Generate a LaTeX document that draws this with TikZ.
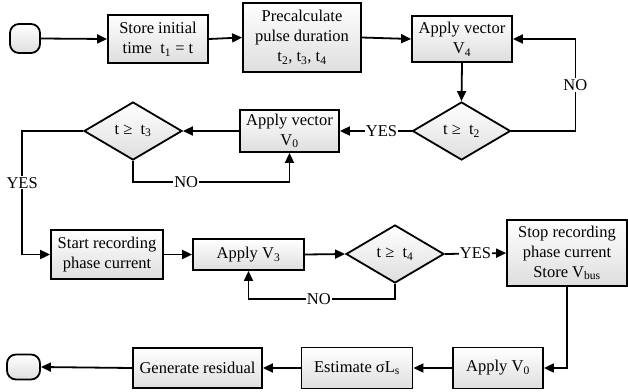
\documentclass[tikz,border=0pt]{standalone}
\usepackage{fontspec}
\setmainfont{Liberation Serif}
\usetikzlibrary{shapes.geometric,arrows.meta}
\newcommand{\sbs}[1]{\textsubscript{#1}}
\begin{document}
\begin{tikzpicture}[x=1pt,y=-1pt,
  font=\fontsize{16.5}{20}\selectfont,
  shd/.style={top color=white,bottom color=black!13,draw=black,line width=1.8pt},
  procbox/.style={shd,rectangle,inner sep=0pt,align=center},
  term/.style={shd,rectangle,rounded corners=9pt,inner sep=0pt},
  dec/.style={shd,diamond,inner sep=0pt,minimum width=98pt,minimum height=58pt},
  arr/.style={line width=1.8pt,-{Triangle[length=10pt,width=9pt]}},
  lbl/.style={fill=white,inner sep=1pt}]
\useasboundingbox (0,0) rectangle (628,391);

\node[term,minimum width=30pt,minimum height=29pt] (start) at (25,38.5) {};
\node[procbox,minimum width=100pt,minimum height=48pt] (store) at (158,39) {Store initial\\time\ \ t\sbs{1} = t};
\node[procbox,minimum width=118pt,minimum height=69pt] (pre) at (302,37.5) {Precalculate\\pulse duration\\t\sbs{2}, t\sbs{3}, t\sbs{4}};
\node[procbox,minimum width=100pt,minimum height=46pt] (v4) at (462,39) {Apply vector\\V\sbs{4}};
\node[dec] (d2) at (461.5,131) {t ≥\ \ t\sbs{2}};
\node[procbox,minimum width=99pt,minimum height=42pt] (v0a) at (289.5,131) {Apply vector\\V\sbs{0}};
\node[dec] (d3) at (133,131) {t ≥\ \ t\sbs{3}};
\node[procbox,minimum width=112pt,minimum height=49pt] (rec) at (107,254.5) {Start recording\\phase current};
\node[procbox,minimum width=111pt,minimum height=31pt] (v3) at (248.5,254.5) {Apply V\sbs{3}};
\node[dec] (d4) at (395,254) {t ≥\ \ t\sbs{4}};
\node[procbox,minimum width=120pt,minimum height=66pt] (stop) at (567,253) {Stop recording\\phase current\\Store V\sbs{bus}};
\node[procbox,minimum width=90pt,minimum height=41pt] (av0) at (498,368) {Apply V\sbs{0}};
\node[procbox,minimum width=111pt,minimum height=41pt] (est) at (357,368) {Estimate σL\sbs{s}};
\node[procbox,minimum width=129pt,minimum height=40pt] (gen) at (197.5,368) {Generate residual};
\node[term,minimum width=33pt,minimum height=25pt] (end) at (23.5,367) {};

\draw[arr] (start.east) -- (store.west);
\draw[arr] (store.east) -- (pre.west);
\draw[arr] (pre.east) -- (v4.west);
\draw[arr] (v4.south) -- (d2.north);
\draw[arr] (d2.east) -- ++(64,0) |- node[lbl,pos=0.25] {NO} (v4.east);
\draw[arr] (d2.west) -- node[lbl,pos=0.42] {YES} (v0a.east);
\draw[arr] (v0a.west) -- (d3.east);
\draw[arr] (d3.south) -- ++(0,21) -| node[lbl,pos=0.17] {NO} (v0a.south);
\draw[arr] (d3.west) -- ++(-61,0) |- node[lbl,pos=0.21] {YES} (rec.west);
\draw[arr] (rec.east) -- (v3.west);
\draw[arr] (v3.east) -- (d4.west);
\draw[arr] (d4.south) -- ++(0,15) -| node[lbl,pos=0.26] {NO} (v3.south);
\draw[arr] (d4.east) -- node[lbl] {YES} (stop.west);
\draw[arr] (stop.south) |- (av0.east);
\draw[arr] (av0.west) -- (est.east);
\draw[arr] (est.west) -- (gen.east);
\draw[arr] (gen.west) -- (end.east);
\end{tikzpicture}
\end{document}
